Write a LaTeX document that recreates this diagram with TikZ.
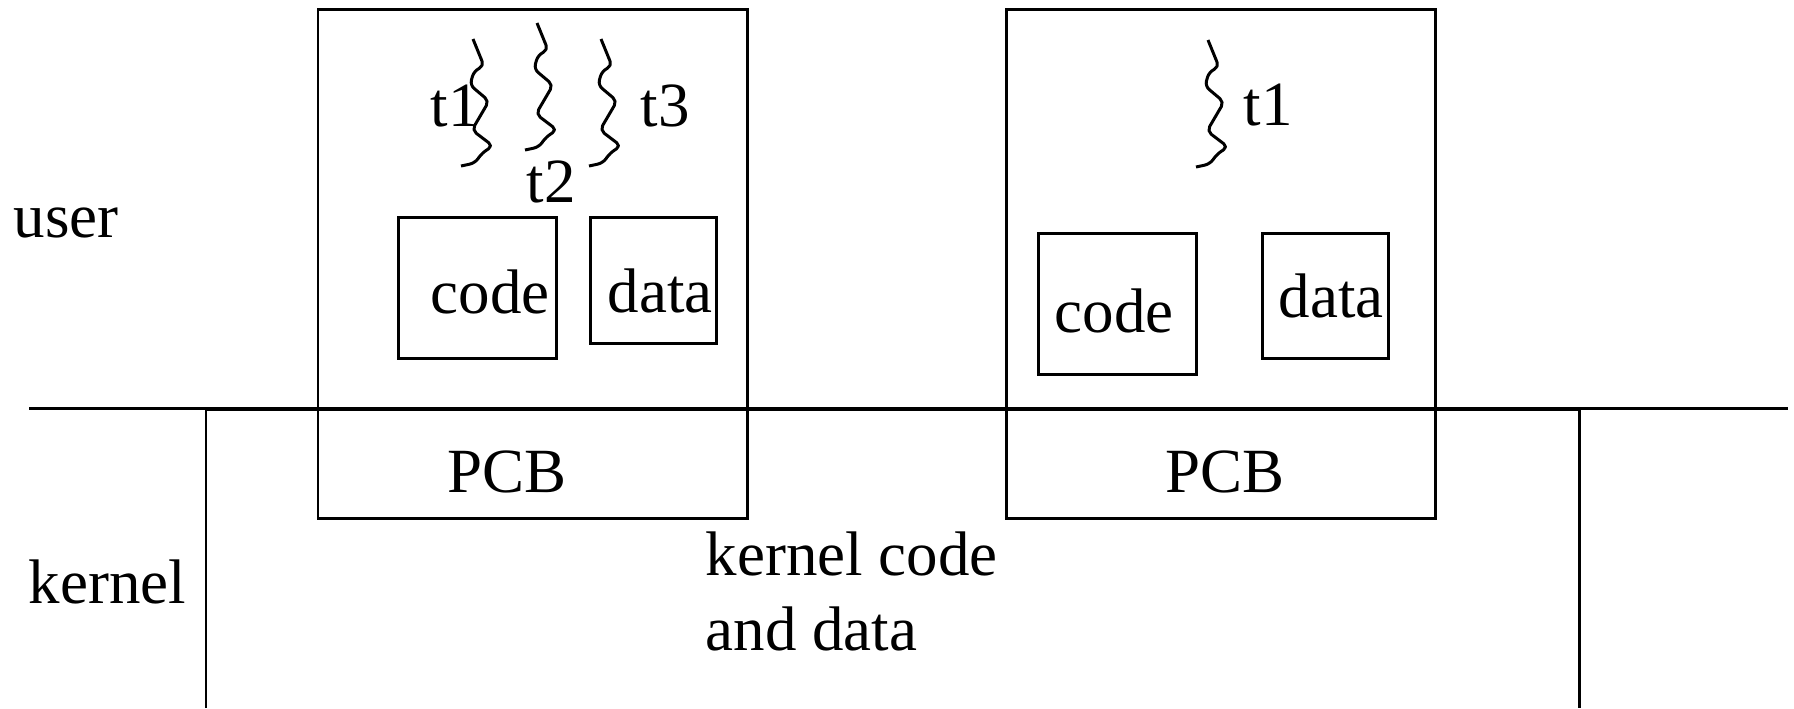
\documentclass[tikz,border=0pt]{standalone}
\usepackage{fontspec}
\setmainfont{Liberation Serif}
\usepackage{tikz}
\usetikzlibrary{positioning}

\begin{document}
\begin{tikzpicture}[
        x=0.01cm, y=-0.01cm,
        line/.style={line width=0.85pt},
        txt/.style={anchor=base west, inner sep=0pt, font=\fontsize{17.9}{21}\selectfont},
        thread/.pic={\draw[line, line join=round, rounded corners=1.5pt] (0,0) -- (11,27) -- (1,32) -- (-3,46) -- (16,62) -- (-1,91) -- (20,107) -- (9,114) -- (2,124) -- (-12,127);}
    ]
        \useasboundingbox (0,0) rectangle (1794,708);

        \draw[line] (29,408) -- (1788,408);
        \draw[line] (206,708) -- (206,409) -- (1579,409) -- (1579,708);

        \draw[line] (318,9) rectangle (747,518);
        \draw[line] (1006,9) rectangle (1435,518);
        \draw[line] (398,217) rectangle (556,358);
        \draw[line] (590,217) rectangle (716,343);
        \draw[line] (1038,233) rectangle (1196,374);
        \draw[line] (1262,233) rectangle (1388,358);

        \foreach \x/\y in {473/39, 537/23, 601/39, 1208/40}
            \pic at (\x,\y) {thread};

        \node[txt] (user) at (13,237) {user};
        \node[txt] (kernel) at (28,603) {kernel};
        \node[txt] (t1a) at (430,126) {t1};
        \node[txt] (t2a) at (526,202) {t2};
        \node[txt] (t3a) at (640,126) {t3};
        \node[txt] (t1b) at (1243,125) {t1};
        \node[txt] (code1) at (430,313) {code};
        \node[txt] (data1) at (607,312) {data};
        \node[txt] (code2) at (1054,332) {code};
        \node[txt] (data2) at (1278,317) {data};
        \node[txt] (pcb1) at (447,492) {PCB};
        \node[txt] (pcb2) at (1165,492) {PCB};
        \node[txt] (kcode) at (705,575) {kernel code};
        \node[txt] (kdata) at (705,650) {and data};
\end{tikzpicture}
\end{document}
